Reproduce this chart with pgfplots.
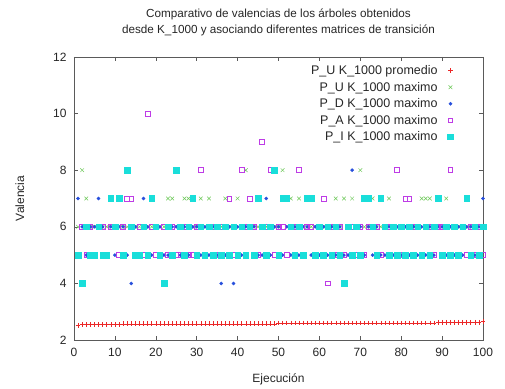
\documentclass[border=0pt]{standalone}
\usepackage{pgfplots}
\pgfplotsset{compat=1.18}
\usepackage{pgfplotstable}
\usepackage{fontspec}
\setmainfont{Liberation Sans}
\definecolor{cRed}{RGB}{235,40,40}
\definecolor{cGreen}{RGB}{110,200,90}
\definecolor{cBlue}{RGB}{40,80,220}
\definecolor{cMag}{RGB}{190,60,230}
\definecolor{cCyan}{RGB}{25,222,218}
\definecolor{cFrame}{RGB}{90,90,90}
\pgfplotstableread{
x pu puM pd pa pi
1 2.52 6 7 5 5
2 2.55 8 6 6 4
3 2.55 7 5 5 6
4 2.55 6 6 6 5
5 2.55 6 6 5 5
6 2.55 6 7 6 6
7 2.55 6 6 6 5
8 2.55 6 5 5 5
9 2.55 6 6 6 7
10 2.55 6 5 6 6
11 2.55 6 6 5 7
12 2.57 6 6 6 5
13 2.57 6 5 7 8
14 2.57 6 4 7 6
15 2.57 6 6 5 5
16 2.57 6 5 6 5
17 2.57 6 7 5 6
18 2.57 6 6 10 5
19 2.57 6 5 6 7
20 2.57 6 6 5 6
21 2.57 6 6 5 5
22 2.57 6 5 6 4
23 2.57 7 5 5 6
24 2.57 7 6 6 5
25 2.57 6 6 5 8
26 2.57 6 5 5 6
27 2.57 7 6 6 5
28 2.57 7 5 5 6
29 2.57 6 6 5 7
30 2.57 6 6 6 5
31 2.57 7 5 8 6
32 2.57 6 6 5 5
33 2.57 7 5 6 6
34 2.57 6 6 6 5
35 2.57 6 5 5 6
36 2.57 6 4 6 5
37 2.57 7 5 6 6
38 2.57 6 6 7 5
39 2.57 6 4 5 6
40 2.57 7 6 5 5
41 2.57 6 5 8 6
42 2.57 8 6 6 5
43 2.57 6 6 7 6
44 2.57 6 6 6 5
45 2.57 6 5 5 7
46 2.57 6 5 9 6
47 2.57 6 7 6 5
48 2.57 6 5 8 6
49 2.57 6 6 5 8
50 2.60 6 6 6 5
51 2.60 8 5 6 7
52 2.60 6 6 5 7
53 2.60 7 5 6 6
54 2.60 6 6 6 5
55 2.60 7 5 8 6
56 2.60 6 6 5 5
57 2.60 6 6 6 7
58 2.60 6 5 6 7
59 2.60 6 6 5 5
60 2.60 6 5 6 6
61 2.60 6 6 7 5
62 2.60 6 5 4 6
63 2.60 6 6 6 5
64 2.60 7 5 5 6
65 2.60 6 6 6 5
66 2.60 7 5 5 4
67 2.60 6 5 6 6
68 2.60 7 8 6 5
69 2.60 6 6 5 6
70 2.60 8 6 6 5
71 2.60 6 5 5 7
72 2.60 6 6 6 7
73 2.60 7 5 6 6
74 2.60 6 6 6 5
75 2.60 6 5 5 7
76 2.60 6 5 6 6
77 2.60 7 6 6 5
78 2.60 6 5 6 6
79 2.60 6 6 8 5
80 2.60 6 5 5 6
81 2.60 6 6 7 5
82 2.60 6 5 7 6
83 2.60 6 6 6 5
84 2.60 6 5 6 6
85 2.60 7 6 5 5
86 2.60 7 5 6 6
87 2.60 7 6 6 5
88 2.60 6 5 5 6
89 2.63 6 6 6 7
90 2.63 6 6 6 5
91 2.63 7 5 6 6
92 2.63 6 6 8 5
93 2.63 6 5 6 6
94 2.63 6 6 5 5
95 2.63 6 5 6 6
96 2.63 6 6 5 7
97 2.63 6 6 6 5
98 2.63 6 5 5 6
99 2.63 6 6 6 5
100 2.66 6 7 5 6
}\datatable
\begin{document}
\begin{tikzpicture}
\path[use as bounding box] (-74bp,-49bp) rectangle (431bp,340bp);
\begin{axis}[
  at={(0,0)}, anchor=south west,
  scale only axis,
  width=409bp, height=283bp,
  xmin=0, xmax=100, ymin=2, ymax=12,
  xtick={0,10,...,100}, ytick={2,4,...,12},
  tick align=inside, major tick length=4bp,
  tick style={cFrame, line width=0.5pt},
  axis line style={cFrame, line width=0.8pt},
  /pgf/number format/assume math mode=true,
  tick label style={font=\fontsize{12bp}{14bp}\selectfont, text=black!85},
  xticklabel style={yshift=-5bp},
  yticklabel style={xshift=-4bp},
  title={Comparativo de valencias de los árboles obtenidos\\desde K\_1000 y asociando diferentes matrices de transición},
  title style={at={(0.5,1)}, anchor=south, yshift=12bp, align=center, font=\fontsize{11.7bp}{16bp}\selectfont, text=black!85},
  xlabel={Ejecución},
  ylabel={Valencia},
  label style={font=\fontsize{12bp}{14bp}\selectfont, text=black!85},
  xlabel style={yshift=-10bp},
  ylabel style={yshift=22bp},
  legend style={at={(0.935,0.985)}, anchor=north east, draw=none, fill=none,
    font=\fontsize{12.5bp}{14bp}\selectfont, text=black!85,
    row sep=2bp, legend cell align=right,
    /tikz/every odd column/.append style={column sep=8bp}},
  legend plot pos=right,
  clip=false,
]
\addplot[only marks, mark=+, mark size=2.4bp, draw=cRed, line width=0.5pt] table[x=x, y=pu] {\datatable};
\addlegendentry{P\_U K\_1000 promedio}
\addplot[only marks, mark=x, mark size=2.6bp, draw=cGreen, line width=0.5pt] table[x=x, y=puM] {\datatable};
\addlegendentry{P\_U K\_1000 maximo}
\addplot[only marks, mark=*, mark size=1.6bp, draw=cBlue, fill=cBlue] table[x=x, y=pd] {\datatable};
\addlegendentry{P\_D K\_1000 maximo}
\addplot[only marks, mark=square, mark size=2.4bp, draw=cMag, line width=0.7pt] table[x=x, y=pa] {\datatable};
\addlegendentry{P\_A K\_1000 maximo}
\addplot[only marks, mark=square*, mark size=2.8bp, draw=cCyan, fill=cCyan] table[x=x, y=pi] {\datatable};
\addlegendentry{P\_I K\_1000 maximo}
\end{axis}
\end{tikzpicture}
\end{document}
